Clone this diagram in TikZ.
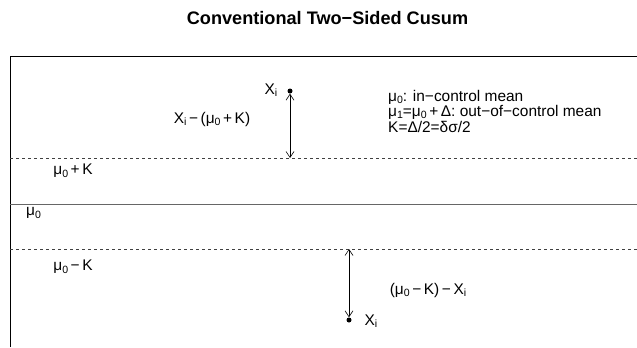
\documentclass[tikz,border=0pt]{standalone}
\usepackage{fontspec}
\setmainfont{Liberation Sans}
\usetikzlibrary{arrows.meta}
\newcommand{\lowsub}[1]{\raisebox{-0.3ex}{\fontsize{10.6}{10.6}\selectfont #1}}
\begin{document}
\begin{tikzpicture}[x=1bp,y=-1bp,
  lbl/.style={font=\fontsize{15.5}{15}\selectfont, inner sep=0pt},
  dashline/.style={draw=black!75, dash pattern=on 3bp off 3bp, line width=0.6bp},
  dot/.style={circle, fill=black, inner sep=0pt, minimum size=5bp},
  arr/.style={line width=0.6bp, {Straight Barb[length=6bp,width=8bp]}-{Straight Barb[length=6bp,width=8bp]}}]
\useasboundingbox (0,0) rectangle (637,347);
\node[font=\bfseries\fontsize{18.2}{20}\selectfont] (title) at (327.5,18) {Conventional Two−Sided Cusum};
% frame
\coordinate (bl) at (10,347);
\coordinate (tl) at (10,56);
\coordinate (tr) at (637,56);
\draw[line width=0.6bp] (bl) -- (tl) -- (tr);
% levels
\coordinate (u1) at (10,158); \coordinate (u2) at (637,158);
\coordinate (m1) at (10,204); \coordinate (m2) at (637,204);
\coordinate (d1) at (10,249); \coordinate (d2) at (637,249);
\draw[dashline] (u1) -- (u2);
\draw[draw=black!60, line width=0.7bp] (m1) -- (m2);
\draw[dashline] (d1) -- (d2);
% labels of levels
\node[lbl] (lu) at (73,171) {μ\lowsub{0}\,+\,K};
\node[lbl, anchor=west] (lm) at (26,213) {μ\lowsub{0}};
\node[lbl] (ld) at (73,267) {μ\lowsub{0}\,−\,K};
% upper observation
\node[dot] (xu) at (290,91) {};
\coordinate (au) at (290,158);
\draw[arr] (xu) -- (au);
\node[lbl] (xul) at (271,90) {X\lowsub{i}};
\node[lbl] (du) at (212,119) {X\lowsub{i}\,−\,(μ\lowsub{0}\,+\,K)};
% lower observation
\node[dot] (xd) at (349,320) {};
\coordinate (ad) at (349,249);
\draw[arr] (ad) -- (xd);
\node[lbl] (xdl) at (371,321) {X\lowsub{i}};
\node[lbl] (dd) at (428,290) {(μ\lowsub{0}\,−\,K)\,−\,X\lowsub{i}};
% legend
\node[lbl, anchor=west] (g1) at (388,97) {μ\lowsub{0}: in−control mean};
\node[lbl, anchor=west] (g2) at (388,112) {μ\lowsub{1}=μ\lowsub{0}\,+\,Δ: out−of−control mean};
\node[lbl, anchor=west] (g3) at (388,127) {K=Δ/2=δσ/2};
\end{tikzpicture}
\end{document}
